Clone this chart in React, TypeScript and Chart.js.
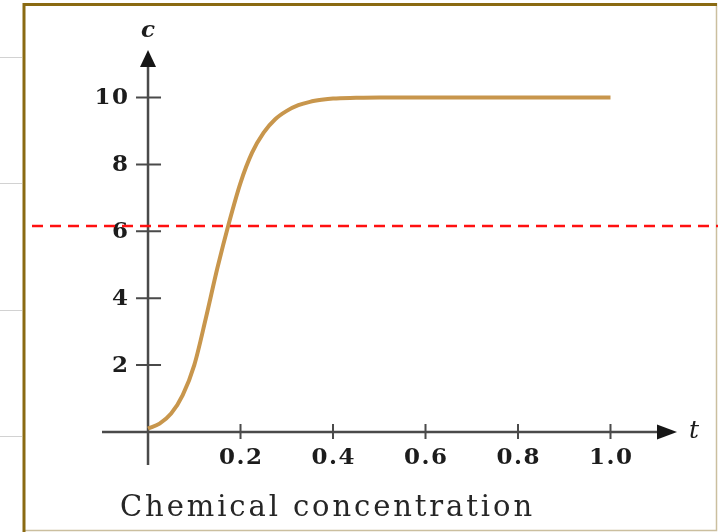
import React, { useEffect, useRef } from 'react';
import { Chart, registerables } from 'chart.js';

Chart.register(...registerables);

// ---- data ----
const tValues = [0, 0.025, 0.05, 0.075, 0.1, 0.125, 0.15, 0.175, 0.2, 0.225, 0.25, 0.275, 0.3, 0.325, 0.35, 0.375, 0.4, 0.45, 0.5, 0.6, 0.7, 0.8, 0.9, 1.0];
const cValues = [0.1, 0.25, 0.55, 1.1, 2.0, 3.4, 4.9, 6.25, 7.45, 8.35, 8.95, 9.35, 9.6, 9.77, 9.87, 9.93, 9.97, 9.99, 10, 10, 10, 10, 10, 10];
const xTicks = [0.2, 0.4, 0.6, 0.8, 1.0];
const xTickLabels = ['0.2', '0.4', '0.6', '0.8', '1.0'];
const yTicks = [2, 4, 6, 8, 10];
const yTickLabels = ['2', '4', '6', '8', '10'];
const thresholdValue = 6.16;
const xAxisLabel = 't';
const yAxisLabel = 'c';
const caption = 'Chemical concentration';

const SERIF = '"DejaVu Serif", "Liberation Serif", serif';

const decorPlugin = {
  id: 'decor',
  beforeDraw(chart: any) {
    const { ctx, width, height } = chart;
    ctx.save();
    ctx.fillStyle = '#ffffff';
    ctx.fillRect(0, 0, width, height);
    // faint lines left of the frame
    ctx.strokeStyle = '#d2d2d2';
    ctx.lineWidth = 1;
    [57.5, 183.5, 310.5, 436.5].forEach((y) => {
      ctx.beginPath();
      ctx.moveTo(0, y);
      ctx.lineTo(22, y);
      ctx.stroke();
    });
    // frame
    ctx.strokeStyle = '#cbbf9f';
    ctx.lineWidth = 1.5;
    ctx.beginPath();
    ctx.moveTo(716.5, 3);
    ctx.lineTo(716.5, 530.5);
    ctx.lineTo(23, 530.5);
    ctx.stroke();
    ctx.strokeStyle = '#8a6a12';
    ctx.lineWidth = 3;
    ctx.beginPath();
    ctx.moveTo(24, 532);
    ctx.lineTo(24, 4.5);
    ctx.lineTo(717, 4.5);
    ctx.stroke();
    ctx.restore();
  },
  beforeDatasetsDraw(chart: any) {
    const { ctx, chartArea } = chart;
    const xs = chart.scales.x;
    const ys = chart.scales.y;
    const x0 = xs.getPixelForValue(0);
    const y0 = ys.getPixelForValue(0);
    ctx.save();
    // axes lines
    ctx.strokeStyle = '#4a4a4a';
    ctx.lineWidth = 2.5;
    ctx.beginPath();
    ctx.moveTo(chartArea.left, y0);
    ctx.lineTo(chartArea.right - 10, y0);
    ctx.moveTo(x0, chartArea.bottom);
    ctx.lineTo(x0, chartArea.top + 10);
    ctx.stroke();
    // arrow heads
    ctx.fillStyle = '#161616';
    ctx.beginPath();
    ctx.moveTo(chartArea.right, y0);
    ctx.lineTo(chartArea.right - 20, y0 - 7.5);
    ctx.lineTo(chartArea.right - 20, y0 + 7.5);
    ctx.closePath();
    ctx.fill();
    ctx.beginPath();
    ctx.moveTo(x0, chartArea.top - 2);
    ctx.lineTo(x0 - 8, chartArea.top + 15);
    ctx.lineTo(x0 + 8, chartArea.top + 15);
    ctx.closePath();
    ctx.fill();
    // tick marks
    ctx.strokeStyle = '#4a4a4a';
    ctx.lineWidth = 2;
    ctx.beginPath();
    xTicks.forEach((v) => {
      const px = xs.getPixelForValue(v);
      ctx.moveTo(px, y0 - 8);
      ctx.lineTo(px, y0 + 7);
    });
    yTicks.forEach((v) => {
      const py = ys.getPixelForValue(v);
      ctx.moveTo(x0 - 12, py);
      ctx.lineTo(x0 + 13, py);
    });
    ctx.stroke();
    // tick labels
    ctx.fillStyle = '#1c1c1c';
    ctx.font = `bold 23px ${SERIF}`;
    const sp = 1.5;
    (ctx as any).letterSpacing = `${sp}px`;
    ctx.textBaseline = 'middle';
    ctx.textAlign = 'left';
    yTicks.forEach((v, i) => {
      const py = ys.getPixelForValue(v);
      const w = ctx.measureText(yTickLabels[i]).width - sp;
      ctx.fillText(yTickLabels[i], x0 - 20 - w, py + 1);
    });
    ctx.textBaseline = 'top';
    xTicks.forEach((v, i) => {
      const px = xs.getPixelForValue(v);
      const w = ctx.measureText(xTickLabels[i]).width - sp;
      ctx.fillText(xTickLabels[i], px - w / 2, y0 + 15);
    });
    (ctx as any).letterSpacing = '0px';
    // axis letters
    ctx.font = `italic bold 23px ${SERIF}`;
    ctx.textAlign = 'center';
    ctx.textBaseline = 'middle';
    ctx.fillText(yAxisLabel, x0, 31);
    ctx.font = `italic 25px ${SERIF}`;
    ctx.fillText(xAxisLabel, chartArea.right + 17, y0);
    // caption
    ctx.font = `29px ${SERIF}`;
    const csp = 2.9;
    (ctx as any).letterSpacing = `${csp}px`;
    ctx.textAlign = 'left';
    ctx.textBaseline = 'alphabetic';
    ctx.fillStyle = '#262626';
    ctx.fillText(caption, 120, 516);
    (ctx as any).letterSpacing = '0px';
    ctx.restore();
  },
  afterDatasetsDraw(chart: any) {
    const { ctx } = chart;
    const ys = chart.scales.y;
    const py = ys.getPixelForValue(thresholdValue);
    ctx.save();
    ctx.strokeStyle = '#ff1010';
    ctx.lineWidth = 2.5;
    ctx.setLineDash([11, 7]);
    ctx.beginPath();
    ctx.moveTo(32, py);
    ctx.lineTo(718, py);
    ctx.stroke();
    ctx.restore();
  },
};

export default function App() {
  const canvasRef = useRef<HTMLCanvasElement | null>(null);

  useEffect(() => {
    if (!canvasRef.current) return;
    const chart = new Chart(canvasRef.current, {
      type: 'scatter',
      data: {
        datasets: [
          {
            data: tValues.map((t, i) => ({ x: t, y: cValues[i] })),
            showLine: true,
            borderColor: '#c8964c',
            borderWidth: 4,
            pointRadius: 0,
            cubicInterpolationMode: 'monotone',
            fill: false,
          } as any,
        ],
      },
      options: {
        animation: false,
        responsive: false,
        devicePixelRatio: 1,
        layout: { padding: { left: 102, right: 41, top: 52, bottom: 67 } },
        scales: {
          x: { type: 'linear', display: false, min: -0.0995, max: 1.1438 },
          y: { type: 'linear', display: false, min: -0.987, max: 11.36 },
        },
        plugins: {
          legend: { display: false },
          tooltip: { enabled: false },
        },
      },
      plugins: [decorPlugin],
    });
    return () => chart.destroy();
  }, []);

  return (
    <div style={{ position: 'absolute', left: 0, top: 0, width: 718, height: 532 }}>
      <canvas ref={canvasRef} width={718} height={532} style={{ width: 718, height: 532 }} />
    </div>
  );
}
